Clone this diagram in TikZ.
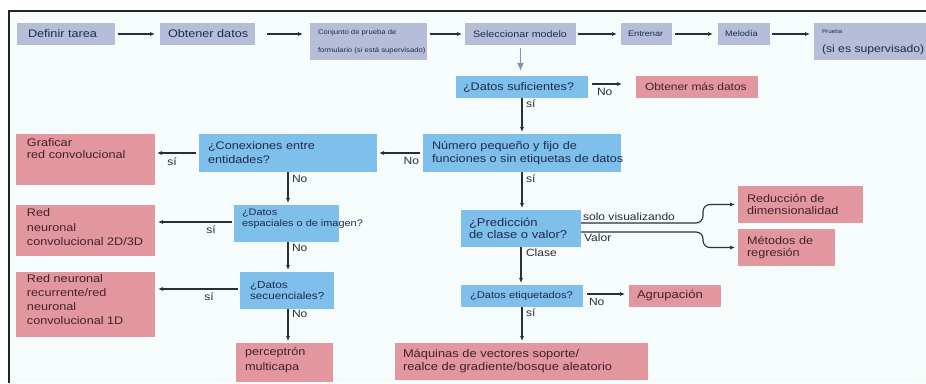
\documentclass[tikz,border=0pt]{standalone}
\usepackage{fontspec}
\setmainfont{Liberation Sans}[FakeStretch=1.15]
\usetikzlibrary{arrows.meta}

\definecolor{pagebg}{HTML}{F6FBFB}
\definecolor{framerule}{HTML}{222428}
\definecolor{stagefill}{HTML}{B6BDD9}
\definecolor{askfill}{HTML}{7EBFEC}
\definecolor{leaffill}{HTML}{E2979F}
\definecolor{inktext}{HTML}{1F2C4A}
\definecolor{leaftext}{HTML}{43222A}
\definecolor{wire}{HTML}{2A2E38}
\definecolor{flowwire}{HTML}{8590B0}

% box text: width, height, vertical position (t/c), left pad, top pad, text
\newcommand\cellbox[6]{\hspace*{#4pt}\parbox[c][#2pt][#3]{\dimexpr#1pt-#4pt\relax}{\raggedright\vspace*{#5pt}#6}}
\newcommand\fs[2]{\fontsize{#1}{#2}\selectfont}

\begin{document}
\begin{tikzpicture}[x=1pt,y=-1pt,
  every node/.style={inner sep=0pt, outer sep=0pt},
  box/.style={anchor=north west},
  stage/.style={box, fill=stagefill, text=inktext},
  ask/.style={box, fill=askfill, text=inktext},
  leaf/.style={box, fill=leaffill, text=leaftext},
  arr/.style={draw=wire, line width=1.1pt, -{Latex[length=5pt,width=4.2pt]}},
  tag/.style={text=wire, font=\fs{10.5}{12}}]

% page and frame
\useasboundingbox (0,0) rectangle (926,383);
\fill[white] (0,0) rectangle (926,383);
\fill[pagebg] (9,11) rectangle (926,383);
\draw[framerule, line width=2pt] (8,11) -- (926,11);
\draw[framerule, line width=2.5pt] (9,10) -- (9,383);

% workflow stages
\node[stage] (t1) at (17,23) {\cellbox{98}{22}{c}{11}{0}{\fs{11}{13}Definir tarea}};
\node[stage] (t2) at (160,23) {\cellbox{95}{22}{c}{8}{0}{\fs{11}{13}Obtener datos}};
\node[stage] (t3) at (310,23) {\cellbox{117}{37}{c}{8}{0}{\fs{6.7}{18}Conjunto de prueba de\\\mbox{formulario (si está supervisado)}}};
\node[stage] (t4) at (465,23) {\cellbox{111}{22}{c}{8}{0}{\fs{9.3}{11}Seleccionar modelo}};
\node[stage] (t5) at (621,23) {\cellbox{51}{22}{c}{7}{0}{\fs{8}{10}Entrenar}};
\node[stage] (t6) at (718,23) {\cellbox{52}{22}{c}{7}{0}{\fs{8}{10}Melodía}};
\node[stage] (t7) at (814,23) {\cellbox{112}{37}{t}{8}{7}{{\fs{5.5}{7}Prueba\par}\fs{10.6}{19}\mbox{(si es supervisado)}}};

% decisions
\node[ask] (ds) at (456,76) {\cellbox{132}{22}{c}{7}{0}{\fs{11}{13}¿Datos suficientes?}};
\node[ask] (num) at (423,134) {\cellbox{198}{38}{c}{9}{0}{\fs{11}{12.5}Número pequeño y fijo de\\\mbox{funciones o sin etiquetas de datos}}};
\node[ask] (con) at (199,134) {\cellbox{178}{38}{c}{9}{0}{\fs{11}{14}¿Conexiones entre\\entidades?}};
\node[ask] (esp) at (234,205) {\cellbox{105}{37}{t}{8}{4}{\fs{9.5}{11}¿Datos\\\mbox{espaciales o de imagen?}}};
\node[ask] (sec) at (240,272) {\cellbox{94}{37}{c}{10}{0}{\fs{10.2}{11.5}¿Datos\\secuenciales?}};
\node[ask] (pred) at (461,210) {\cellbox{120}{37}{c}{8}{0}{\fs{11.3}{12}¿Predicción\\de clase o valor?}};
\node[ask] (eti) at (461,285) {\cellbox{122}{22}{c}{9}{0}{\fs{9.7}{11}¿Datos etiquetados?}};

% outcomes
\node[leaf] (omd) at (636,76) {\cellbox{122}{22}{c}{9}{0}{\fs{10.4}{12}Obtener más datos}};
\node[leaf] (graf) at (16,134) {\cellbox{139}{51}{t}{11}{5}{\fs{11}{12}Graficar\\red convolucional}};
\node[leaf] (rnc) at (16,205) {\cellbox{139}{51}{t}{11}{4}{\fs{11}{14.5}Red\\neuronal\\convolucional 2D/3D}};
\node[leaf] (rnr) at (16,272) {\cellbox{139}{65}{t}{11}{3}{\fs{11}{14}Red neuronal\\recurrente/red\\neuronal\\convolucional 1D}};
\node[leaf] (mlp) at (236,343) {\cellbox{97}{39}{t}{9}{4}{\fs{11}{15}perceptrón\\multicapa}};
\node[leaf] (red) at (738,186) {\cellbox{125}{37}{c}{9}{0}{\fs{11}{12.5}Reducción de\\dimensionalidad}};
\node[leaf] (met) at (738,229) {\cellbox{97}{37}{c}{9}{0}{\fs{11}{12.5}Métodos de\\regresión}};
\node[leaf] (agr) at (629,285) {\cellbox{92}{22}{c}{8}{0}{\fs{11.3}{13}Agrupación}};
\node[leaf] (svm) at (395,343) {\cellbox{253}{37}{c}{8}{0}{\fs{11.2}{13}\mbox{Máquinas de vectores soporte/}\\\mbox{realce de gradiente/bosque aleatorio}}};

% workflow arrows
\draw[arr, shorten <=3pt, shorten >=5pt] (t1.east) -- (t2.west);
\draw[arr, shorten <=12pt, shorten >=7pt] (t2.east) -- (t3.west |- t2.east);
\draw[arr, shorten <=3pt, shorten >=3pt] (t3.east |- t4.east) -- (t4.west);
\draw[arr, shorten <=2pt, shorten >=4pt] (t4.east) -- (t5.west);
\draw[arr, shorten <=3pt, shorten >=5pt] (t5.east) -- (t6.west);
\draw[arr, shorten <=2pt, shorten >=4pt] (t6.east) -- (t7.west |- t6.east);
\draw[draw=flowwire, line width=1.8pt, -{Latex[length=8pt,width=7pt]}, shorten <=3pt, shorten >=5pt]
  (t4.south) -- (t4.south |- ds.north);

% decision arrows
\draw[arr, shorten <=4pt, shorten >=14pt] ([yshift=3pt]ds.east) -- ([yshift=3pt]omd.west)
  node[tag, pos=0, anchor=north west, xshift=9pt, yshift=-4pt] {No};
\draw[arr, shorten >=2pt] (ds.south) -- (ds.south |- num.north)
  node[tag, pos=0, anchor=north west, xshift=4pt, yshift=-2pt] {sí};
\draw[arr, shorten <=3pt, shorten >=2pt] (num.west) -- (con.east)
  node[tag, pos=0, anchor=north east, xshift=-4pt, yshift=-4pt] {No};
\draw[arr, shorten <=3pt, shorten >=2pt] (con.west) -- (graf.east |- con.west)
  node[tag, pos=0, anchor=north, xshift=-27pt, yshift=-5pt] {sí};
\draw[arr, shorten >=2pt] (con.south) -- (con.south |- esp.north)
  node[tag, pos=0, anchor=north west, xshift=4pt, yshift=-3pt] {No};
\draw[arr, shorten <=2pt, shorten >=3pt] ([yshift=1.5pt]esp.west) -- ([yshift=1.5pt]esp.west -| rnc.east)
  node[tag, pos=0, anchor=north, xshift=-23pt, yshift=-4pt] {sí};
\draw[arr, shorten >=2pt] (con.south |- esp.south) -- (con.south |- sec.north)
  node[tag, pos=0, anchor=north west, xshift=4pt, yshift=-2pt] {No};
\draw[arr, shorten <=2pt, shorten >=3pt] ([yshift=1.5pt]sec.west) -- ([yshift=1.5pt]sec.west -| rnr.east)
  node[tag, pos=0, anchor=north, xshift=-31pt, yshift=-4pt] {sí};
\draw[arr, shorten >=2pt] (con.south |- sec.south) -- (con.south |- mlp.north)
  node[tag, pos=0, anchor=north west, xshift=4pt, yshift=-1pt] {No};
\draw[arr, shorten >=2pt] (num.south) -- (num.south |- pred.north)
  node[tag, pos=0, anchor=north west, xshift=4pt, yshift=-3pt] {sí};
\draw[arr, rounded corners=7pt, shorten >=3pt] ([yshift=5.5pt]pred.east)
  node[tag, anchor=south west, xshift=2pt, yshift=2pt] {solo visualizando}
  -- ++(122,0) |- (red.west);
\draw[arr, rounded corners=7pt, shorten >=3pt] ([yshift=-3.5pt]pred.east)
  node[tag, anchor=north west, xshift=3pt, yshift=-2pt] {Valor}
  -- ++(122,0) |- (met.west);
\draw[arr, shorten >=2pt] (pred.south) -- (pred.south |- eti.north)
  node[tag, pos=0, anchor=north west, xshift=5pt, yshift=-2pt] {Clase};
\draw[arr, shorten <=4pt, shorten >=4pt] ([yshift=2pt]eti.east) -- ([yshift=2pt]agr.west)
  node[tag, pos=0, anchor=north west, xshift=6pt, yshift=-4pt] {No};
\draw[arr, shorten >=2pt] (eti.south) -- (eti.south |- svm.north)
  node[tag, pos=0, anchor=north west, xshift=4pt, yshift=-2pt] {sí};
\end{tikzpicture}
\end{document}
